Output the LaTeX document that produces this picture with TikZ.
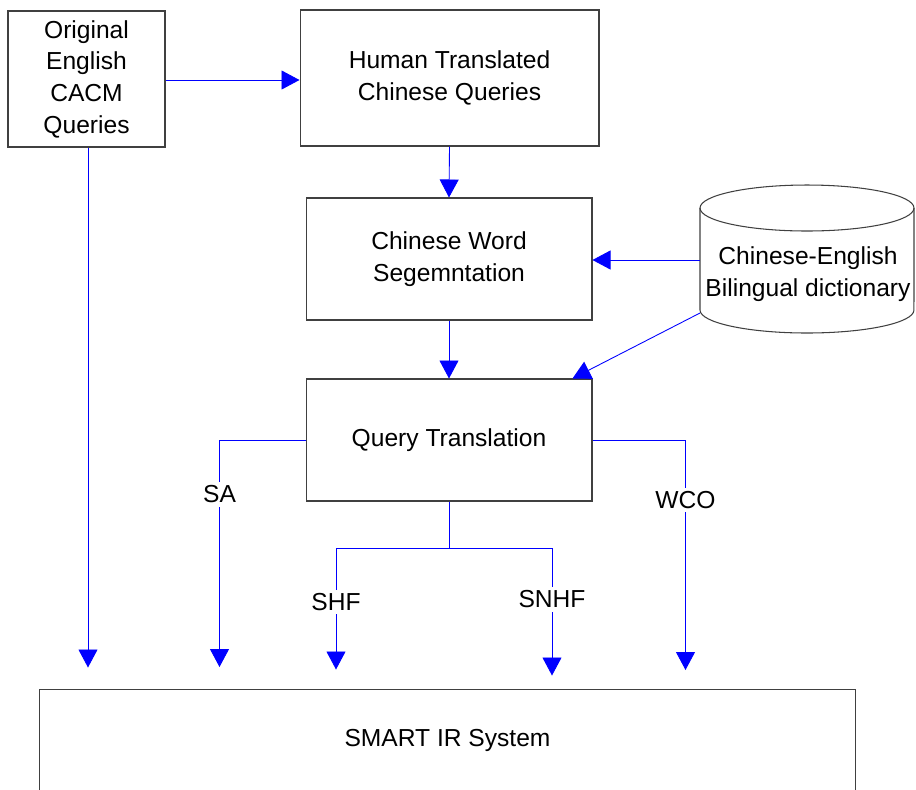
\documentclass[tikz,border=0pt]{standalone}
\usepackage{fontspec}
\setmainfont{Liberation Sans}
\usetikzlibrary{arrows.meta}

\begin{document}
\begin{tikzpicture}[x=0.02cm,y=0.02cm,
          box/.style={draw=black!75,line width=0.6pt,inner sep=0pt,align=center,
                      font=\fontsize{14}{18}\selectfont},
          wire/.style={draw=blue,line width=0.5pt},
          link/.style={wire,-{Triangle[length=3.6mm,width=3.8mm]}},
          tag/.style={fill=white,inner sep=2pt,font=\fontsize{14}{18}\selectfont}]
   \useasboundingbox (0,0) rectangle (916,-789);

          % boxes
          \node[box,minimum width=3.14cm,minimum height=2.72cm] (Orig) at (86.5,-79)
               {Original\\English\\CACM\\Queries};
          \node[box,minimum width=5.98cm,minimum height=2.72cm] (Human) at (449.5,-78)
               {Human Translated\\Chinese Queries};
          \node[box,minimum width=5.72cm,minimum height=2.44cm] (Seg) at (449,-259)
               {Chinese Word\\Segemntation};
          \node[box,minimum width=5.72cm,minimum height=2.44cm] (QT) at (449,-440)
               {Query Translation};
          \node[box,draw=none,minimum width=16.3cm,minimum height=2cm] (Smart) at (447.5,-740)
               {SMART IR System};
             \draw[black!75,line width=0.6pt]
                (Smart.south west) |- (Smart.north east) -- (Smart.south east);

          % dictionary
             \draw[black!75,line width=0.6pt]
                (807,-208) ellipse [x radius=2.14cm,y radius=0.46cm];
             \draw[black!75,line width=0.6pt]
                (700,-208) -- (700,-310)
             arc [start angle=180,end angle=360,x radius=2.14cm,y radius=0.46cm]
             -- (914,-208);
          \node[align=center,inner sep=0pt,font=\fontsize{14}{18}\selectfont] (Dict) at (808,-274)
               {Chinese-English\\Bilingual dictionary};
          \coordinate (DictL) at (700,-260);
          \coordinate (DictLow) at (700,-313);

          % links
             \draw[link] ([yshift=-0.02cm]Orig.east) -- ([yshift=-0.02cm]Orig.east -| Human.west);
             \draw[link] (Human.south) -- (Seg.north);
             \draw[link] (DictL) -- (DictL -| Seg.east);
             \draw[link] (Seg.south) -- (QT.north);
             \draw[link] (DictLow) -- ([xshift=-0.4cm]QT.north east);
             \draw[link] ([xshift=0.03cm]Orig.south) -- ++(0,-520);

             \draw[link] (QT.west) -| node[tag,pos=0.62] {SA} ++(-86,-227);
             \draw[link] (QT.east) -| node[tag,pos=0.63] {WCO} ++(93,-230);
             \draw[wire] (QT.south) -- ++(0,-47) coordinate (Fork);
             \draw[link] (Fork) -| node[tag,pos=0.72] {SHF} ++(-113,-121);
             \draw[link] (Fork) -| node[tag,pos=0.70] {SNHF} ++(103,-127);

\end{tikzpicture}
\end{document}
